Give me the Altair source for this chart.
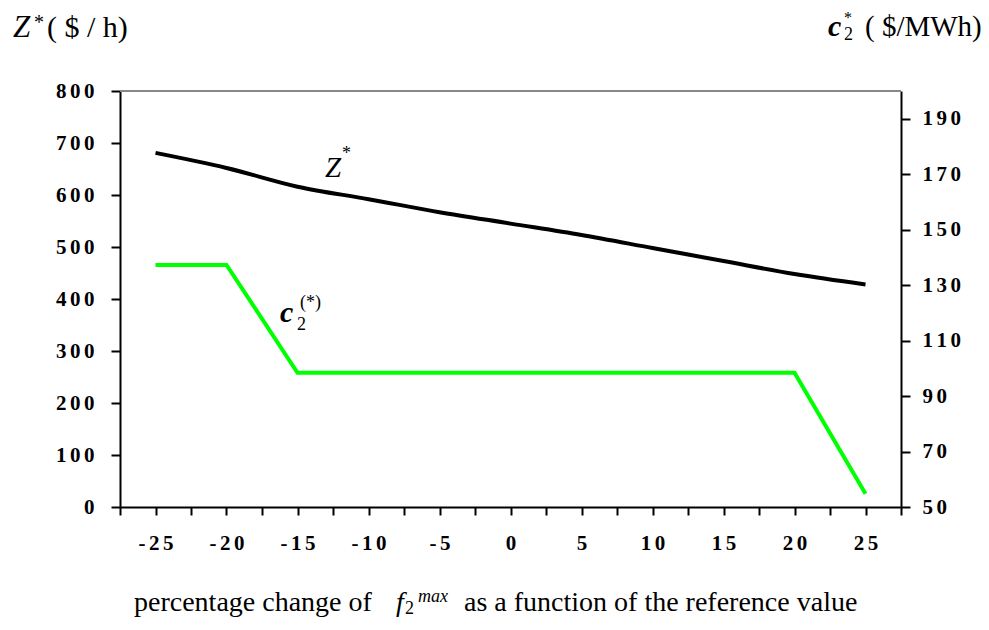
import altair as alt
import pandas as pd

# ---- data ----
pct = [-25, -20, -15, -10, -5, 0, 5, 10, 15, 20, 25]
z_star = [681, 652, 616, 592, 567, 545, 523, 498, 473, 448, 428]
c2_star = [137.3, 137.3, 98.4, 98.4, 98.4, 98.4, 98.4, 98.4, 98.4, 98.4, 54.8]

x_ticks = [-27.5, -25, -22.5, -20, -17.5, -15, -12.5, -10, -7.5, -5, -2.5, 0,
           2.5, 5, 7.5, 10, 12.5, 15, 17.5, 20, 22.5, 25, 27.5]
y_left_ticks = [0, 100, 200, 300, 400, 500, 600, 700, 800]
y_right_ticks = [50, 70, 90, 110, 130, 150, 170, 190]

df = pd.DataFrame({"pct": pct, "z": z_star, "c2": c2_star})

W, H = 781, 416
FONT = "Liberation Serif"
SPACED = "join(split(toString(datum.value), ''), '\u2006')"

axis_common = dict(
    title=None, grid=False, domainColor="black", domainWidth=2,
    tickColor="black", tickWidth=2, labelFont=FONT, labelFontSize=21,
    labelFontWeight="bold", labelColor="black", labelOverlap=False,
    labelFlush=False,
)

x_enc = alt.X(
    "pct:Q",
    scale=alt.Scale(domain=[-27.5, 27.5], nice=False, zero=False),
    axis=alt.Axis(values=x_ticks, tickSize=8, labelPadding=17,
                  labelExpr=f"datum.value % 5 == 0 ? {SPACED} : ''",
                  **axis_common),
)

z_line = alt.Chart(df).mark_line(
    color="black", strokeWidth=4, interpolate="monotone"
).encode(
    x=x_enc,
    y=alt.Y("z:Q", scale=alt.Scale(domain=[0, 800], nice=False),
            axis=alt.Axis(orient="left", values=y_left_ticks, tickSize=9,
                          labelPadding=17, labelExpr=SPACED, **axis_common)),
)

c2_line = alt.Chart(df).mark_line(
    color="#00FF00", strokeWidth=4
).encode(
    x=x_enc,
    y=alt.Y("c2:Q", scale=alt.Scale(domain=[50, 200], nice=False, zero=False),
            axis=alt.Axis(orient="right", values=y_right_ticks, tickSize=9,
                          labelPadding=12, labelExpr=SPACED, **axis_common)),
)

border = alt.Chart(pd.DataFrame({"a": [0]})).mark_rule(
    color="#888888", strokeWidth=2
).encode(x=alt.value(0), x2=alt.value(W), y=alt.value(0))


def txt(s, x, y, size, style="normal", weight="normal"):
    return alt.Chart(pd.DataFrame({"t": [s]})).mark_text(
        align="left", baseline="alphabetic", font=FONT, fontSize=size,
        fontStyle=style, fontWeight=weight, color="black",
    ).encode(x=alt.value(x), y=alt.value(y), text="t:N")


texts = [
    # left axis title  Z*($/h)
    txt("Z", -107, -54, 31, style="italic"),
    txt("*", -86, -62, 20),
    txt("( $ / h)", -73, -54, 30),
    # right axis title c2*($/MWh)
    txt("c", 708, -55, 30, style="italic", weight="bold"),
    txt("2", 724, -51, 18),
    txt("*", 724, -68, 16),
    txt("( $/MWh)", 745, -55, 29),
    # in-plot labels
    txt("Z", 205, 86, 29, style="italic"),
    txt("*", 222, 68, 18),
    txt("c", 160, 231, 30, style="italic", weight="bold"),
    txt("2", 177, 239, 18),
    txt("(*)", 180, 217, 18),
    # x axis title
    txt("percentage change of", 14, 520, 28),
    txt("f", 276, 520, 28, style="italic"),
    txt("2", 285, 523, 18),
    txt("max", 298, 511, 18, style="italic"),
    txt("as a function of the reference value", 344, 520, 28),
]

chart = alt.layer(border, z_line, c2_line, *texts).resolve_scale(
    y="independent"
).properties(
    width=W, height=H,
    autosize=alt.AutoSizeParams(type="none"),
    padding={"left": 112, "top": 83, "right": 80, "bottom": 110},
    background="white",
).configure_view(stroke=None)

chart.save("out.html", embed_options={"renderer": "svg", "actions": False})
